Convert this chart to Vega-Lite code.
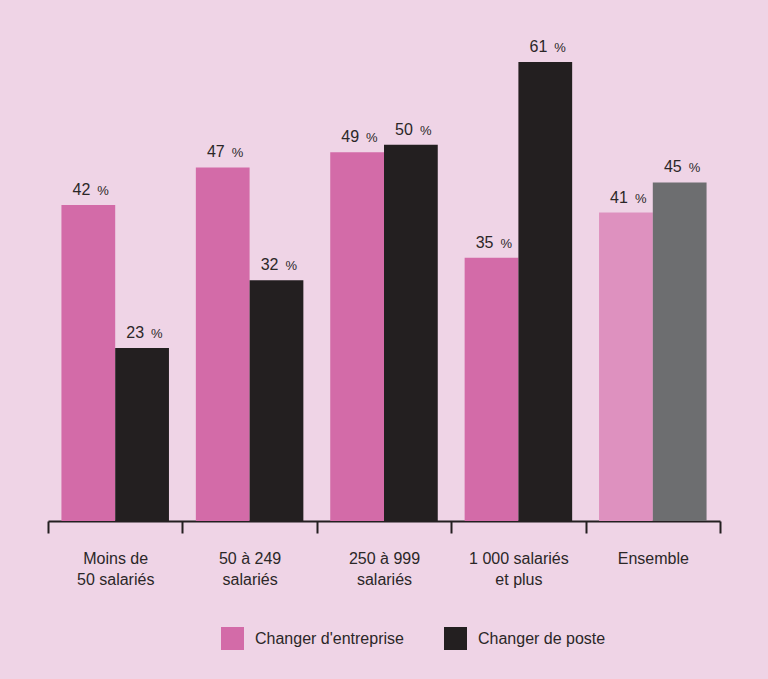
{
  "$schema": "https://vega.github.io/schema/vega-lite/v6.json",
  "autosize": "none",
  "width": 672,
  "height": 489,
  "padding": {"left": 48, "top": 32, "right": 48, "bottom": 158},
  "background": "#efd4e6",
  "config": {
    "view": {"stroke": null},
    "font": "Liberation Sans",
    "text": {"font": "Liberation Sans", "color": "#2b2728"}
  },
  "data": {
    "values": [
      {"categorie": "Moins de 50 salariés", "serie": "Changer d'entreprise", "valeur": 42},
      {"categorie": "Moins de 50 salariés", "serie": "Changer de poste", "valeur": 23},
      {"categorie": "50 à 249 salariés", "serie": "Changer d'entreprise", "valeur": 47},
      {"categorie": "50 à 249 salariés", "serie": "Changer de poste", "valeur": 32},
      {"categorie": "250 à 999 salariés", "serie": "Changer d'entreprise", "valeur": 49},
      {"categorie": "250 à 999 salariés", "serie": "Changer de poste", "valeur": 50},
      {"categorie": "1 000 salariés et plus", "serie": "Changer d'entreprise", "valeur": 35},
      {"categorie": "1 000 salariés et plus", "serie": "Changer de poste", "valeur": 61},
      {"categorie": "Ensemble", "serie": "Changer d'entreprise", "valeur": 41},
      {"categorie": "Ensemble", "serie": "Changer de poste", "valeur": 45}
    ]
  },
  "encoding": {
    "x": {
      "field": "categorie",
      "type": "nominal",
      "sort": null,
      "scale": {"paddingInner": 0, "paddingOuter": 0},
      "axis": {
        "title": null,
        "tickBand": "extent",
        "labelAngle": 0,
        "domainColor": "#231f20",
        "domainWidth": 2,
        "tickColor": "#231f20",
        "tickWidth": 2,
        "tickSize": 12,
        "labelPadding": 17,
        "labelFontSize": 16,
        "labelColor": "#2b2728",
        "labelLineHeight": 21,
        "labelBaseline": "top",
        "labelExpr": "datum.value === 'Moins de 50 salariés' ? ['Moins de', '50 salariés'] : datum.value === '50 à 249 salariés' ? ['50 à 249', 'salariés'] : datum.value === '250 à 999 salariés' ? ['250 à 999', 'salariés'] : datum.value === '1 000 salariés et plus' ? ['1 000 salariés', 'et plus'] : datum.value"
      }
    },
    "xOffset": {
      "field": "serie",
      "type": "nominal",
      "sort": ["Changer d'entreprise", "Changer de poste"],
      "scale": {"paddingInner": 0, "paddingOuter": 0.25}
    },
    "y": {
      "field": "valeur",
      "type": "quantitative",
      "scale": {"domain": [0, 65]},
      "axis": null
    }
  },
  "layer": [
    {
      "mark": {"type": "bar"},
      "encoding": {
        "color": {
          "condition": [
            {"test": "datum.categorie === 'Ensemble' && datum.serie === 'Changer de poste'", "value": "#6d6e70"},
            {"test": "datum.categorie === 'Ensemble'", "value": "#de91bf"}
          ],
          "field": "serie",
          "type": "nominal",
          "scale": {
            "domain": ["Changer d'entreprise", "Changer de poste"],
            "range": ["#d36ba8", "#231f20"]
          },
          "legend": {
            "title": null,
            "orient": "none",
            "direction": "horizontal",
            "legendX": 173,
            "legendY": 595,
            "symbolType": "square",
            "symbolSize": 529,
            "symbolStrokeWidth": 0,
            "symbolOpacity": 1,
            "labelFontSize": 16,
            "labelColor": "#2b2728",
            "labelOffset": 11,
            "columnPadding": 40,
            "labelLimit": 300
          }
        }
      }
    },
    {
      "mark": {"type": "text", "align": "right", "baseline": "alphabetic", "dx": 2, "dy": -10, "fontSize": 16},
      "encoding": {"text": {"field": "valeur", "type": "quantitative"}}
    },
    {
      "mark": {"type": "text", "align": "left", "baseline": "alphabetic", "dx": 9, "dy": -10, "fontSize": 13, "text": "%"},
      "encoding": {}
    }
  ]
}
